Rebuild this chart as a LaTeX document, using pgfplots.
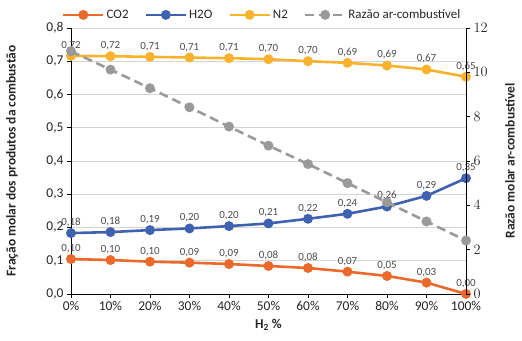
\documentclass[border=0pt]{standalone}
\usepackage{pgfplots}
\pgfplotsset{compat=1.18}
\usepackage{pgfplotstable}
\usepackage{fontspec}
\setmainfont{Carlito}
\definecolor{cCO}{HTML}{EB6A2B}
\definecolor{cH}{HTML}{3F62B0}
\definecolor{cN}{HTML}{F8B22E}
\definecolor{cR}{HTML}{9A9A9A}
\definecolor{txt}{HTML}{262626}

\pgfplotstableread{
x y lab
0 0.105 0,10
10 0.102 0,10
20 0.097 0,10
30 0.094 0,09
40 0.090 0,09
50 0.084 0,08
60 0.078 0,08
70 0.067 0,07
80 0.054 0,05
90 0.034 0,03
100 0.000 0,00
}\co
\pgfplotstableread{
x y lab
0 0.183 0,18
10 0.186 0,18
20 0.192 0,19
30 0.197 0,20
40 0.204 0,20
50 0.212 0,21
60 0.226 0,22
70 0.241 0,24
80 0.263 0,26
90 0.295 0,29
100 0.348 0,35
}\ho
\pgfplotstableread{
x y lab
0 0.716 0,72
10 0.715 0,72
20 0.713 0,71
30 0.711 0,71
40 0.709 0,71
50 0.706 0,70
60 0.700 0,70
70 0.695 0,69
80 0.687 0,69
90 0.675 0,67
100 0.653 0,65
}\nt
\pgfplotstableread{
x y
0 10.95
10 10.12
20 9.28
30 8.42
40 7.55
50 6.69
60 5.86
70 5.00
80 4.13
90 3.27
100 2.41
}\ra

\begin{document}
\begin{tikzpicture}
\pgfplotsset{
  common/.style={
    scale only axis, width=395bp, height=266bp,
    xmin=0, xmax=100,
    clip=false,
    tick align=outside, major tick length=4bp,
    tick style={black, line width=0.8bp},
    axis line style={black, line width=0.8bp},
    ticklabel style={font=\fontsize{13.5}{15}\selectfont, text=txt},
    label style={font=\fontsize{13.5}{15}\selectfont\bfseries, text=txt},
  },
  ser/.style={line width=2.6bp, mark=*, mark size=3.6bp, mark options={solid}},
}
\begin{axis}[common,
  ymin=0, ymax=0.8,
  xtick={0,10,20,30,40,50,60,70,80,90,100},
  xticklabels={0\%,10\%,20\%,30\%,40\%,50\%,60\%,70\%,80\%,90\%,100\%},
  ytick={0,0.1,0.2,0.3,0.4,0.5,0.6,0.7,0.8},
  yticklabel style={/pgf/number format/.cd, fixed, fixed zerofill, precision=1, use comma, assume math mode=true},
  axis x line*=bottom, axis y line*=left,
  ymajorgrids, grid style={color=black!17, line width=0.6bp},
  xlabel={H\textsubscript{2} \%},
  ylabel={Fração molar dos produtos da combustão},
  xlabel style={at={(axis description cs:0.5,-0.1165)}, anchor=center},
  ylabel style={at={(axis description cs:-0.149,0.5)}, anchor=center},
  nodes near coords, point meta=explicit symbolic,
  nodes near coords style={font=\fontsize{11}{12}\selectfont, text=black!70, anchor=south, yshift=1.5bp},
]
\addplot[ser, color=cCO] table[x=x, y=y, meta=lab] {\co};
\addplot[ser, color=cH] table[x=x, y=y, meta=lab] {\ho};
\addplot[ser, color=cN] table[x=x, y=y, meta=lab] {\nt};
\end{axis}
\begin{axis}[common,
  ymin=0, ymax=12,
  ytick={0,2,4,6,8,10,12},
  axis y line*=right, axis x line=none,
  ylabel={Razão molar ar-combustível},
  ylabel style={at={(axis description cs:1.111,0.5)}, anchor=center},
  legend style={at={(axis description cs:0.484,1.049)}, anchor=center, draw=none, fill=none,
    font=\fontsize{13}{14}\selectfont, text=txt, legend columns=-1,
    /tikz/every even column/.append style={column sep=14bp}},
  legend image code/.code={\draw[#1, mark repeat=2, mark phase=2] plot coordinates {(0bp,0bp) (20bp,0bp) (40bp,0bp)};},
]
\addlegendimage{ser, color=cCO}
\addlegendentry{CO2}
\addlegendimage{ser, color=cH}
\addlegendentry{H2O}
\addlegendimage{ser, color=cN}
\addlegendentry{N2}
\addplot[ser, color=cR, dash pattern=on 9bp off 5bp] table[x=x, y=y] {\ra};
\addlegendentry{Razão ar-combustível}
\path (axis description cs:-0.1797,-0.1767) rectangle (axis description cs:1.1418,1.105);
\end{axis}
\end{tikzpicture}
\end{document}
